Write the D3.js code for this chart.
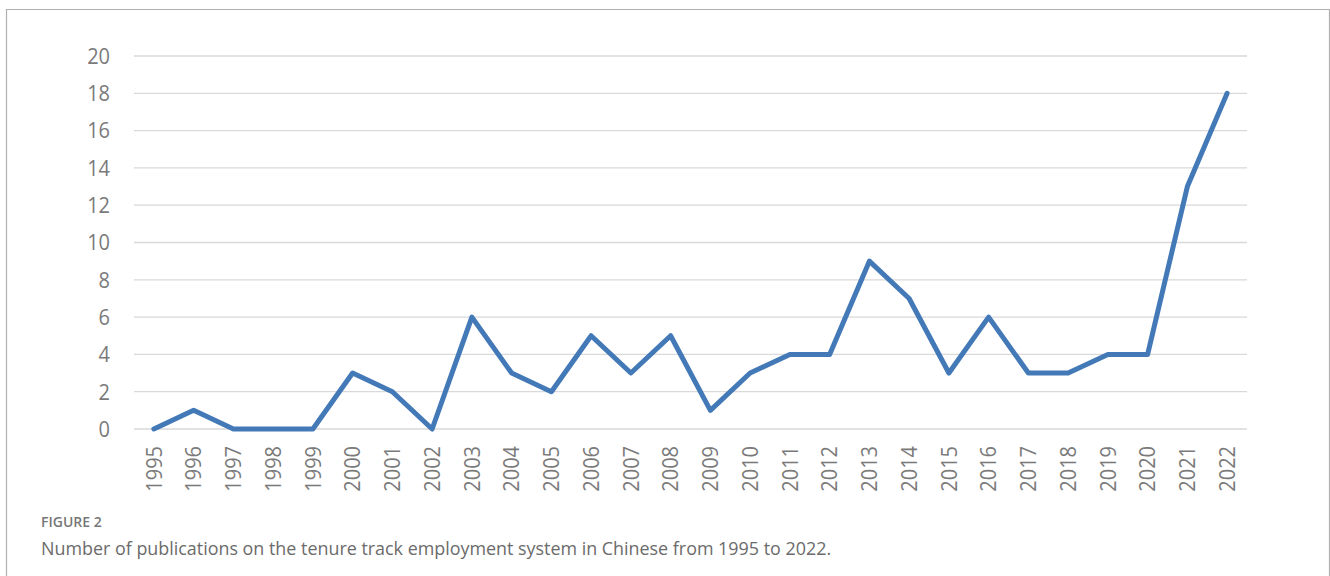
<!DOCTYPE html>
<html>
<head>
<meta charset="utf-8">
<script src="https://cdn.jsdelivr.net/npm/d3@7"></script>
<style>
  body { margin: 0; background: #fff; }
  svg { display: block; }
</style>
</head>
<body>
<script>
// DATA
var years = ['1995','1996','1997','1998','1999','2000','2001','2002','2003','2004',
  '2005','2006','2007','2008','2009','2010','2011','2012','2013','2014',
  '2015','2016','2017','2018','2019','2020','2021','2022'];
var publications = [0,1,0,0,0,3,2,0,6,3,2,5,3,5,1,3,4,4,9,7,3,6,3,3,4,4,13,18];
var yTicks = [0,2,4,6,8,10,12,14,16,18,20];
var figureLabel = 'FIGURE 2';
var captionText = 'Number of publications on the tenure track employment system in Chinese from 1995 to 2022.';

var width = 1330;
var height = 576;
var labelFont = '"Open Sans", "Noto Sans", sans-serif';

var svg = d3.select('body')
  .append('svg')
  .attr('width', width)
  .attr('height', height);

// frame around figure
svg.append('path')
  .attr('d', 'M6.5,' + height + 'V9.5H1329.5V' + height)
  .attr('fill', 'none')
  .attr('stroke', '#b0b0b0')
  .attr('stroke-width', 1.2);

var x = d3.scaleBand()
  .domain(years)
  .range([134, 1247]);

var y = d3.scaleLinear()
  .domain([0, 20])
  .range([429, 56]);

// gridlines
svg.append('g')
  .selectAll('line')
  .data(yTicks)
  .enter()
  .append('line')
  .attr('x1', 134)
  .attr('x2', 1247)
  .attr('y1', function(d) { return y(d); })
  .attr('y2', function(d) { return y(d); })
  .attr('stroke', '#d9d9d9')
  .attr('stroke-width', 1.3);

// y axis labels (font is a bit taller than wide in the original)
svg.append('g')
  .selectAll('text')
  .data(yTicks)
  .enter()
  .append('text')
  .attr('transform', function(d) {
    return 'translate(110,' + y(d) + ') scale(1,1.12)';
  })
  .attr('dy', '0.35em')
  .attr('text-anchor', 'end')
  .attr('font-family', labelFont)
  .attr('font-size', 20)
  .attr('fill', '#7a7a7a')
  .text(function(d) { return d; });

// x axis labels, rotated
svg.append('g')
  .selectAll('text')
  .data(years)
  .enter()
  .append('text')
  .attr('transform', function(d) {
    return 'translate(' + (x(d) + x.bandwidth() / 2) + ',446) rotate(-90) scale(1,1.12)';
  })
  .attr('dy', '0.35em')
  .attr('text-anchor', 'end')
  .attr('font-family', labelFont)
  .attr('font-size', 20)
  .attr('fill', '#7a7a7a')
  .text(function(d) { return d; });

// the line
var line = d3.line()
  .x(function(d, i) { return x(years[i]) + x.bandwidth() / 2; })
  .y(function(d) { return y(d); });

svg.append('path')
  .datum(publications)
  .attr('d', line)
  .attr('fill', 'none')
  .attr('stroke', '#4379b7')
  .attr('stroke-width', 5)
  .attr('stroke-linejoin', 'round')
  .attr('stroke-linecap', 'round');

// caption
svg.append('text')
  .attr('x', 41)
  .attr('y', 527)
  .attr('font-family', labelFont)
  .attr('font-size', 14)
  .attr('font-weight', 600)
  .attr('fill', '#777')
  .text(figureLabel);

svg.append('text')
  .attr('x', 41)
  .attr('y', 555)
  .attr('font-family', labelFont)
  .attr('font-size', 17.9)
  .attr('fill', '#6b6b6b')
  .text(captionText);
</script>
</body>
</html>
